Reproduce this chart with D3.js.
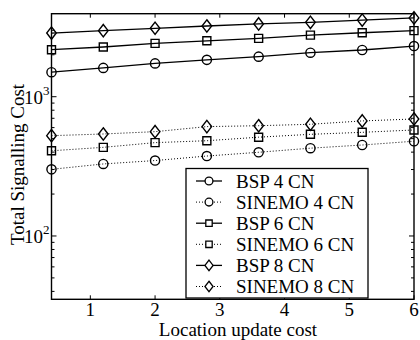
<!DOCTYPE html>
<html>
<head>
<meta charset="utf-8">
<script src="https://cdn.jsdelivr.net/npm/d3@7"></script>
<style>
  html, body { margin: 0; padding: 0; background: #fff; }
  svg { display: block; }
  text { font-family: "Liberation Serif", "Times New Roman", serif; fill: #000; }
</style>
</head>
<body>
<svg id="chart" width="420" height="340"></svg>
<script>
// Location update cost (x) and total signalling cost per scheme
const updateCost = [0.4, 1.2, 2.0, 2.8, 3.6, 4.4, 5.2, 6.0];
const bsp4    = [1500, 1610, 1735, 1840, 1940, 2070, 2165, 2310];
const sinemo4 = [301, 329, 348, 375, 399, 427, 450, 479];
const bsp6    = [2175, 2275, 2415, 2520, 2625, 2770, 2880, 2980];
const sinemo6 = [409, 433, 468, 483, 512, 537, 555, 577];
const bsp8    = [2865, 2980, 3100, 3220, 3330, 3420, 3550, 3680];
const sinemo8 = [525, 540, 561, 610, 619, 634, 670, 692];

const seriesNames = ["BSP 4 CN", "SINEMO 4 CN", "BSP 6 CN", "SINEMO 6 CN", "BSP 8 CN", "SINEMO 8 CN"];
const xTicks = [1, 2, 3, 4, 5, 6];
const yMajorExp = [2, 3];

const series = [
  { name: seriesNames[0], values: bsp4,    marker: "circle",  dotted: false },
  { name: seriesNames[1], values: sinemo4, marker: "circle",  dotted: true },
  { name: seriesNames[2], values: bsp6,    marker: "square",  dotted: false },
  { name: seriesNames[3], values: sinemo6, marker: "square",  dotted: true },
  { name: seriesNames[4], values: bsp8,    marker: "diamond", dotted: false },
  { name: seriesNames[5], values: sinemo8, marker: "diamond", dotted: true }
];

const svg = d3.select("#chart");
const L = 51.5, R = 414, T = 13.7, B = 299.3;

const x = d3.scaleLinear().domain([0.4, 6]).range([L, R]);
const y = d3.scaleLog().domain([35.1, 3945]).range([B, T]);

// marker path generator
function markerPath(type, s) {
  if (type === "circle") {
    const r = 4.6 * s;
    return `M${-r},0A${r},${r} 0 1,0 ${r},0A${r},${r} 0 1,0 ${-r},0Z`;
  }
  if (type === "square") {
    const h = 4 * s;
    return `M${-h},${-h}H${h}V${h}H${-h}Z`;
  }
  const w = 4.8 * s, hh = 6.2 * s;
  return `M0,${-hh}L${w},0L0,${hh}L${-w},0Z`;
}

// series lines and markers
const line = d3.line().x((d, i) => x(updateCost[i])).y(d => y(d));
const g = svg.append("g");
series.forEach(s => {
  g.append("path")
    .attr("d", line(s.values))
    .attr("fill", "none")
    .attr("stroke", "#000")
    .attr("stroke-width", s.dotted ? 1 : 1.3)
    .attr("stroke-dasharray", s.dotted ? "1,2" : null);
  g.selectAll(null).data(s.values).enter().append("path")
    .attr("transform", (d, i) => `translate(${x(updateCost[i])},${y(d)})`)
    .attr("d", markerPath(s.marker, 1))
    .attr("fill", "none")
    .attr("stroke", "#000")
    .attr("stroke-width", 1.4);
});

// frame
const axisG = svg.append("g");
axisG.append("rect")
  .attr("x", L).attr("y", T).attr("width", R - L).attr("height", B - T)
  .attr("fill", "none").attr("stroke", "#000").attr("stroke-width", 1.4);

// x ticks (inward, bottom and top)
xTicks.forEach(v => {
  const px = x(v);
  axisG.append("line").attr("x1", px).attr("x2", px).attr("y1", B).attr("y2", B - 4)
    .attr("stroke", "#000").attr("stroke-width", 1);
  axisG.append("line").attr("x1", px).attr("x2", px).attr("y1", T).attr("y2", T + 4)
    .attr("stroke", "#000").attr("stroke-width", 1);
  axisG.append("text").attr("x", px).attr("y", 316)
    .attr("text-anchor", "middle").attr("font-size", 19).text(v);
});

// y ticks: log majors and minors, inward on both sides
const [y0, y1] = y.domain();
const yTickVals = [];
for (let e = 1; e <= 3; e++) {
  for (let m = 1; m <= 9; m++) {
    const v = m * Math.pow(10, e);
    if (v >= y0 && v <= y1) yTickVals.push({ v, major: m === 1 });
  }
}
yTickVals.forEach(t => {
  const py = y(t.v);
  const len = t.major ? 5 : 3;
  axisG.append("line").attr("x1", L).attr("x2", L + len).attr("y1", py).attr("y2", py)
    .attr("stroke", "#000").attr("stroke-width", 1);
  axisG.append("line").attr("x1", R).attr("x2", R - len).attr("y1", py).attr("y2", py)
    .attr("stroke", "#000").attr("stroke-width", 1);
});
yMajorExp.forEach(e => {
  const py = y(Math.pow(10, e));
  const t = axisG.append("text").attr("x", 24).attr("y", py + 7).attr("font-size", 19);
  t.append("tspan").text("10");
  t.append("tspan").attr("font-size", 13).attr("dy", -9).text(e);
});

// axis titles
svg.append("text").attr("x", 238).attr("y", 336)
  .attr("text-anchor", "middle").attr("font-size", 19).text("Location update cost");
svg.append("text")
  .attr("transform", `translate(24,${(T + B) / 2 + 8}) rotate(-90)`)
  .attr("text-anchor", "middle").attr("font-size", 19).text("Total Signalling Cost");

// legend
const lg = svg.append("g");
const lgX = 186, lgY = 168.5, lgW = 182, lgH = 129.5, rowH = 21.1;
lg.append("rect").attr("x", lgX).attr("y", lgY).attr("width", lgW).attr("height", lgH)
  .attr("fill", "#fff").attr("stroke", "#000").attr("stroke-width", 1.3);
series.forEach((s, i) => {
  const cy = lgY + 12.5 + i * rowH;
  lg.append("line").attr("x1", 196).attr("x2", 222).attr("y1", cy).attr("y2", cy)
    .attr("stroke", "#000")
    .attr("stroke-width", s.dotted ? 1 : 1.3)
    .attr("stroke-dasharray", s.dotted ? "1,2" : null);
  lg.append("path").attr("transform", `translate(209,${cy})`)
    .attr("d", markerPath(s.marker, s.marker === "square" ? 0.8 : 0.85))
    .attr("fill", "#fff").attr("stroke", "#000").attr("stroke-width", 1.3);
  lg.append("text").attr("x", 236).attr("y", cy + 6.5).attr("font-size", 19).text(s.name);
});
</script>
</body>
</html>
